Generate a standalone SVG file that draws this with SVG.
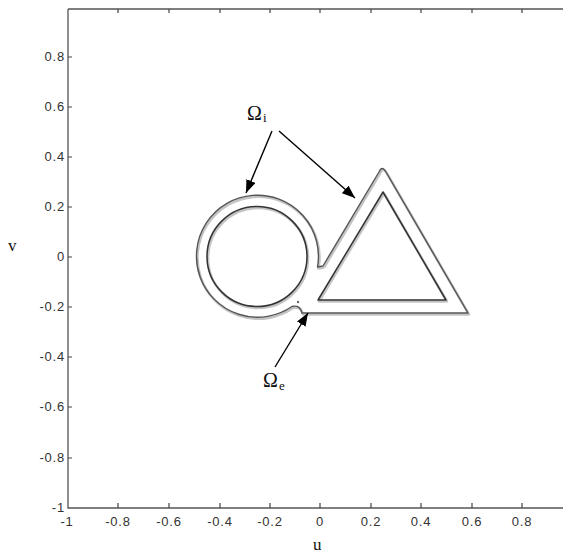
<svg xmlns="http://www.w3.org/2000/svg" width="563" height="555" viewBox="0 0 563 555">
<style>
.ax{stroke:#555;stroke-width:1.3;fill:none}
.tk{stroke:#444;stroke-width:1.2}
.tl{font-family:"Liberation Sans",Arial,sans-serif;font-size:13px;letter-spacing:0.8px;fill:#333}
.lab{font-family:"Liberation Serif","Times New Roman",serif;fill:#111}
.sh{fill:none;stroke:#c4c4c4;stroke-width:2.6;stroke-linejoin:round}
.ln{fill:none;stroke:#555;stroke-width:1.4;stroke-linejoin:round}
.lnd{fill:none;stroke:#333;stroke-width:1.5;stroke-linejoin:round}
.arr{stroke:#000;stroke-width:1.4;fill:none;marker-end:url(#ah)}
</style>
<defs>
<marker id="ah" markerUnits="userSpaceOnUse" markerWidth="14" markerHeight="11" refX="13" refY="5" orient="auto">
<path d="M0,0 L13,5 L0,10 Z" fill="#000"/>
</marker>
</defs>
<rect width="563" height="555" fill="#fff"/>
<g id="axes">
<path class="ax" d="M68,9 L563,9 M68,9 L68,508 L563,508"/>
<g class="tk">
<path d="M118,508v-5M169,508v-5M220,508v-5M270,508v-5M320,508v-5M371,508v-5M421,508v-5M472,508v-5M522,508v-5"/>
<path d="M118,9v4M169,9v4M220,9v4M270,9v4M320,9v4M371,9v4M421,9v4M472,9v4M522,9v4"/>
<path d="M68,458h4M68,407h4M68,357h4M68,307h4M68,257h4M68,207h4M68,157h4M68,107h4M68,57h4"/>
</g>
<g class="tl" text-anchor="middle">
<text x="67" y="526">-1</text><text x="118" y="526">-0.8</text><text x="169" y="526">-0.6</text>
<text x="220" y="526">-0.4</text><text x="270" y="526">-0.2</text><text x="320" y="526">0</text>
<text x="371" y="526">0.2</text><text x="421" y="526">0.4</text><text x="472" y="526">0.6</text>
<text x="522" y="526">0.8</text>
</g>
<g class="tl" text-anchor="end">
<text x="65" y="512">-1</text><text x="65" y="462">-0.8</text><text x="65" y="411">-0.6</text>
<text x="65" y="361">-0.4</text><text x="65" y="311">-0.2</text><text x="65" y="261">0</text>
<text x="65" y="211">0.2</text><text x="65" y="161">0.4</text><text x="65" y="111">0.6</text>
<text x="65" y="61">0.8</text>
</g>
<text class="lab" x="8" y="251" font-size="17">v</text>
<text class="lab" x="313" y="550" font-size="17">u</text>
</g>
<g id="outer-boundary">
<path class="sh" transform="translate(1,1.5)" d="M323,266 L379,172 Q382,165 386,172 L468,313 L302,313 C301,308 298,305 292,306.5 A61,61 0 1 1 317.5,267 L323,266"/>
<path class="ln" d="M323,266 L379,172 Q382,165 386,172 L468,313 L302,313 C301,308 298,305 292,306.5 A61,61 0 1 1 317.5,267 L323,266"/>
<circle cx="298" cy="302" r="1.2" fill="#666"/>
</g>
<g id="circle-region">
<circle class="sh" cx="258" cy="258" r="50"/>
<circle class="lnd" cx="257" cy="256.5" r="50"/>
</g>
<g id="triangle-region">
<path class="sh" transform="translate(1,1.5)" d="M318,300 L383,192 L446,300 Z"/>
<path class="lnd" d="M318,300 L383,192 L446,300 Z"/>
</g>
<g id="connectors">
<path class="arr" d="M272,131 L246,193"/>
<path class="arr" d="M279,131 L355,198"/>
<path class="arr" d="M275,367 L308,313"/>
</g>
<g id="labels">
<text class="lab" x="247" y="120" font-size="20">Ω</text>
<text class="lab" x="263" y="122" font-size="13">i</text>
<text class="lab" x="263" y="387" font-size="20">Ω</text>
<text class="lab" x="279" y="390" font-size="13">e</text>
</g>
</svg>
